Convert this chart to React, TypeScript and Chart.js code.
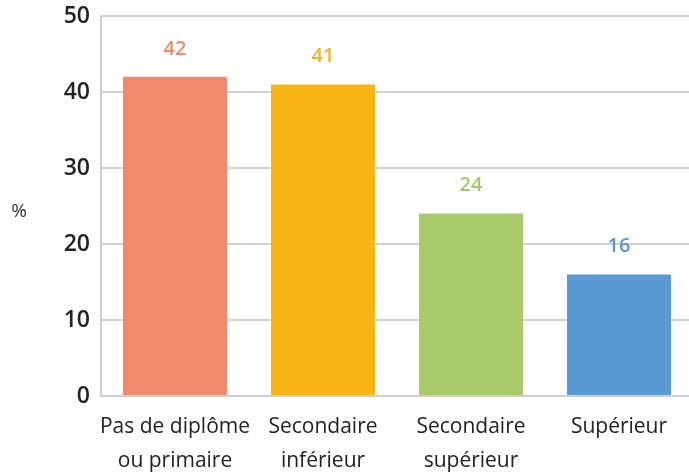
import React, { useEffect, useRef } from "react";
import { Chart, registerables } from "chart.js";

Chart.register(...registerables);

const categories: string[][] = [
  ["Pas de diplôme", "ou primaire"],
  ["Secondaire", "inférieur"],
  ["Secondaire", "supérieur"],
  ["Supérieur"],
];
const values: number[] = [42, 41, 24, 16];
const barColors: string[] = ["#EF8A6B", "#F9B514", "#A9CB6B", "#5B9BD5"];
const labelColors: string[] = ["#EE8C6C", "#F4B22A", "#A5C86A", "#5B97D2"];
const yTicks: number[] = [0, 10, 20, 30, 40, 50];
const yUnit = "%";

const FONT = "'Open Sans', 'Noto Sans', sans-serif";

const valueLabelPlugin = {
  id: "valueLabels",
  afterDatasetsDraw(chart: any) {
    const ctx = chart.ctx;
    const meta = chart.getDatasetMeta(0);
    ctx.save();
    ctx.font = `600 20px ${FONT}`;
    ctx.textAlign = "center";
    ctx.textBaseline = "middle";
    meta.data.forEach((bar: any, i: number) => {
      ctx.fillStyle = labelColors[i];
      ctx.fillText(String(values[i]), bar.x, bar.y - 28);
    });
    ctx.fillStyle = "#333";
    ctx.font = `400 19px ${FONT}`;
    ctx.textAlign = "center";
    ctx.fillText(yUnit, 19, 212);
    ctx.restore();
  },
};

export default function App() {
  const ref = useRef<HTMLCanvasElement | null>(null);
  useEffect(() => {
    if (!ref.current) return;
    const chart = new Chart(ref.current, {
      type: "bar",
      data: {
        labels: categories,
        datasets: [
          {
            data: values,
            backgroundColor: barColors,
            borderWidth: 0,
            categoryPercentage: 1,
            barPercentage: 0.703,
          },
        ],
      },
      options: {
        animation: false,
        responsive: false,
        maintainAspectRatio: false,
        devicePixelRatio: 1,
        layout: { padding: { top: 16, right: 1, left: 0, bottom: 0 } },
        plugins: {
          legend: { display: false },
          tooltip: { enabled: false },
        },
        scales: {
          x: {
            grid: { display: false, drawTicks: false },
            border: { display: true, color: "#cfcfcf", width: 2 },
            ticks: {
              color: "#222",
              font: { family: FONT, size: 21, lineHeight: 1.62 },
              padding: 14,
              maxRotation: 0,
              autoSkip: false,
            },
            afterFit: (scale: any) => {
              scale.height = 79;
              scale.paddingLeft = 0;
              scale.paddingRight = 0;
            },
          },
          y: {
            min: 0,
            max: 50,
            afterBuildTicks: (scale: any) => {
              scale.ticks = yTicks.map((v) => ({ value: v }));
            },
            grid: { color: "#d2d2d2", lineWidth: 2, drawTicks: false },
            border: { display: true, color: "#cfcfcf", width: 2 },
            ticks: {
              color: "#222",
              font: { family: FONT, size: 23, weight: "600" },
              padding: 11,
            },
            afterFit: (scale: any) => {
              scale.width = 101;
              scale.paddingTop = 0;
              scale.paddingBottom = 0;
            },
          },
        },
      },
      plugins: [valueLabelPlugin],
    });
    return () => chart.destroy();
  }, []);
  return (
    <div
      style={{
        position: "fixed",
        left: 0,
        top: 0,
        width: 689,
        height: 475,
        overflow: "hidden",
        background: "#fff",
      }}
    >
      <canvas ref={ref} width={694} height={475} style={{ display: "block" }} />
    </div>
  );
}
